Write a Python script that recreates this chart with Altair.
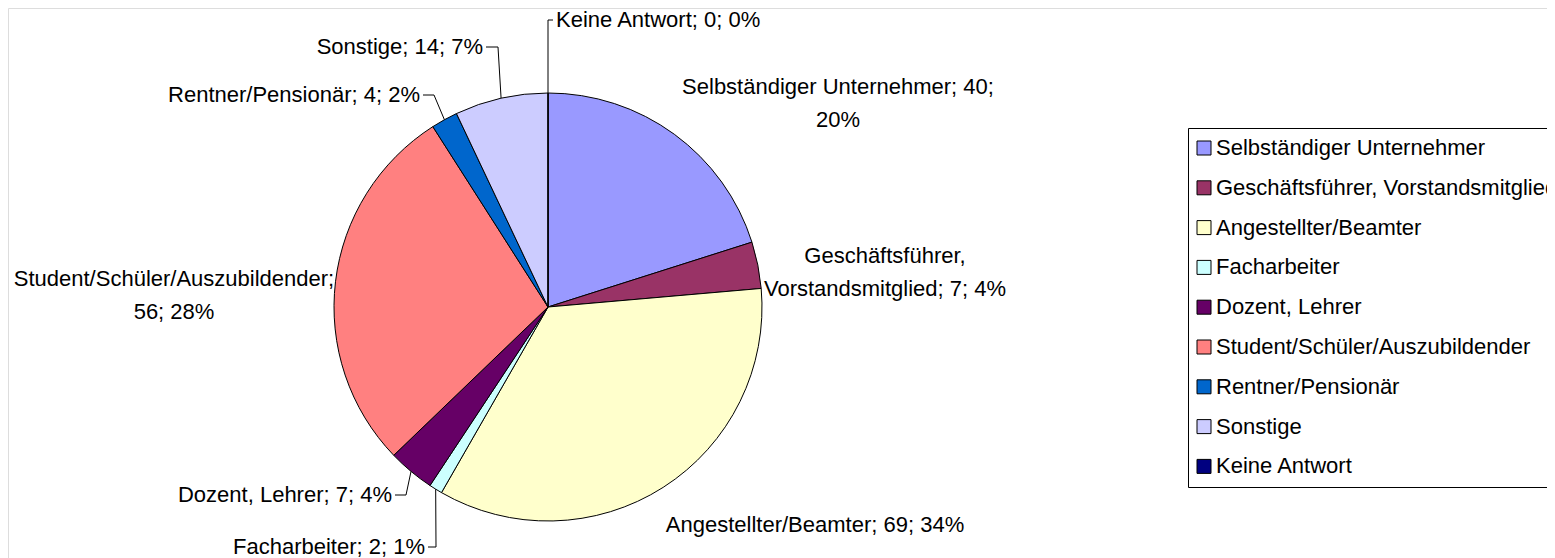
import math
import altair as alt
import pandas as pd

# ---- data ----
categories = [
    "Selbständiger Unternehmer",
    "Geschäftsführer, Vorstandsmitglied",
    "Angestellter/Beamter",
    "Facharbeiter",
    "Dozent, Lehrer",
    "Student/Schüler/Auszubildender",
    "Rentner/Pensionär",
    "Sonstige",
    "Keine Antwort",
]
values = [40, 7, 69, 2, 7, 56, 4, 14, 0]
percents = [20, 4, 34, 1, 4, 28, 2, 7, 0]
colors = ["#9999FF", "#993366", "#FFFFCC", "#CCFFFF", "#660066",
          "#FF8080", "#0066CC", "#CCCCFF", "#000080"]

# ---- layout (pixel positions inside the plot area) ----
W, H = 1539, 550
CX, CY, R = 540, 299, 214
FONT = "Liberation Sans"
FS = 22

# label anchor: (x, y, align, break mode, elbow(x,y) or None, line end(x,y) or None)
label_layout = {
    "Selbständiger Unternehmer": (830, 78.5, "center", "value", None, None),
    "Geschäftsführer, Vorstandsmitglied": (877, 248, "center", "comma", None, None),
    "Angestellter/Beamter": (807, 517, "center", None, None, None),
    "Facharbeiter": (417, 539, "right", None, (428, 539), (420, 539)),
    "Dozent, Lehrer": (384, 487, "right", None, (398, 487), (387, 487)),
    "Student/Schüler/Auszubildender": (166, 271, "center", "cat", None, None),
    "Rentner/Pensionär": (412, 87, "right", None, (426, 87), (415, 87)),
    "Sonstige": (475, 39, "right", None, (490, 39), (478, 39)),
    "Keine Antwort": (548, 12, "left", None, (540, 12), (545, 12)),
}

df = pd.DataFrame({"cat": categories, "value": values, "idx": list(range(len(values)))})

total = sum(values)
texts, lx, ly, al = [], [], [], []
lines = []
cum = 0
for c, v, p in zip(categories, values, percents):
    x, y, a, brk, elbow, end = label_layout[c]
    if brk == "value":
        t = f"{c}; {v};\n{p}%"
    elif brk == "comma":
        first, rest = c.split(", ", 1)
        t = f"{first},\n{rest}; {v}; {p}%"
    elif brk == "cat":
        t = f"{c};\n{v}; {p}%"
    else:
        t = f"{c}; {v}; {p}%"
    texts.append(t)
    lx.append(x)
    ly.append(y)
    al.append(a)
    mid = (cum + v / 2) / total * 2 * math.pi
    cum += v
    if elbow is not None:
        ex = CX + R * math.sin(mid)
        ey = CY - R * math.cos(mid)
        lines += [
            {"cat": c, "o": 0, "x": end[0], "y": end[1]},
            {"cat": c, "o": 1, "x": elbow[0], "y": elbow[1]},
            {"cat": c, "o": 2, "x": ex, "y": ey},
        ]

lab = pd.DataFrame({"text": texts, "x": lx, "y": ly, "align": al})
ldf = pd.DataFrame(lines)

pie = alt.Chart(df).mark_arc(radius=R, stroke="black", strokeWidth=1).encode(
    theta=alt.Theta("value:Q", stack=True),
    order=alt.Order("idx:Q"),
    x=alt.value(CX),
    y=alt.value(CY),
    color=alt.Color(
        "cat:N",
        sort=categories,
        scale=alt.Scale(domain=categories, range=colors),
        legend=alt.Legend(
            title=None,
            orient="none",
            legendX=1180,
            legendY=120,
            padding=9,
            strokeColor="black",
            fillColor="white",
            cornerRadius=0,
            labelFont=FONT,
            labelFontSize=FS,
            labelColor="black",
            labelLimit=0,
            labelOffset=1,
            symbolOffset=-4,
            symbolType="square",
            symbolSize=196,
            symbolStrokeColor="black",
            symbolStrokeWidth=1,
            symbolOpacity=1,
            rowPadding=17.8,
        ),
    ),
)

leaders = alt.Chart(ldf).mark_line(color="black", strokeWidth=1).encode(
    x=alt.X("x:Q", scale=None),
    y=alt.Y("y:Q", scale=None),
    detail="cat:N",
    order="o:Q",
)

text_layers = []
for a in ["left", "center", "right"]:
    text_layers.append(
        alt.Chart(lab[lab["align"] == a]).mark_text(
            align=a, baseline="middle", font=FONT, fontSize=FS,
            color="black", lineBreak="\n", lineHeight=33,
        ).encode(
            x=alt.X("x:Q", scale=None),
            y=alt.Y("y:Q", scale=None),
            text="text:N",
        )
    )

chart = alt.layer(pie, leaders, *text_layers).properties(
    width=W, height=H, padding=0, autosize=alt.AutoSizeParams(type="none"),
).configure_view(strokeWidth=0, strokeOpacity=0).configure(background="white")

chart.save("out.html", embed_options={"renderer": "svg", "actions": False})
